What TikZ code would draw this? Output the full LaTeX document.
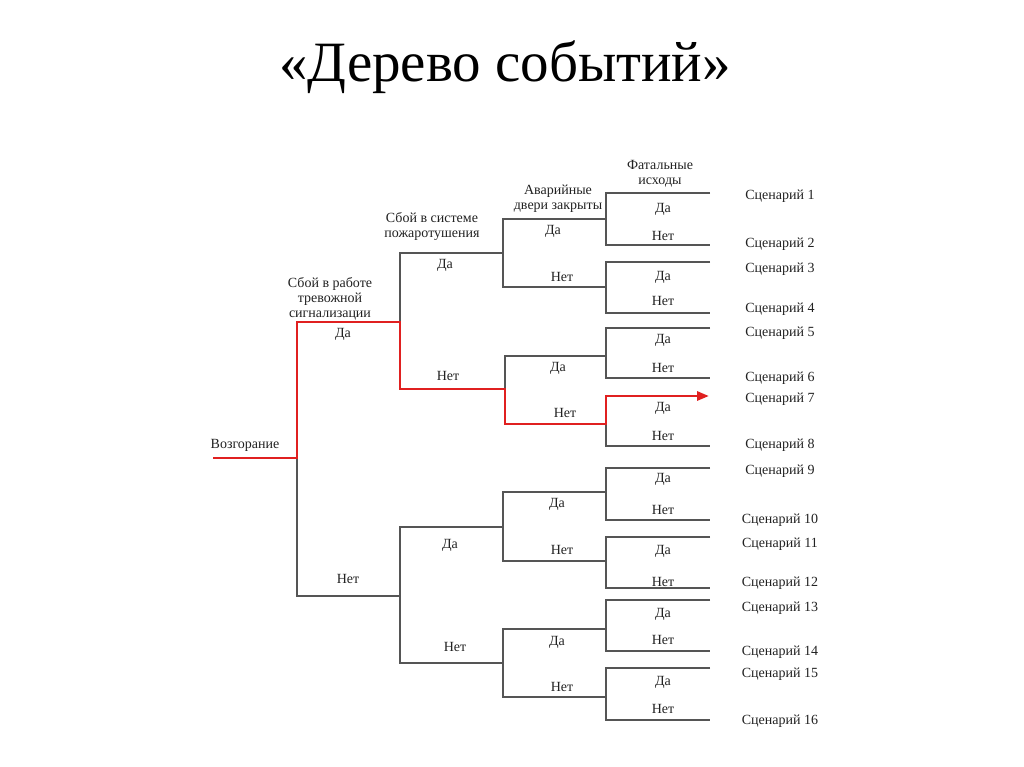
\documentclass[tikz,border=0pt]{standalone}
\usepackage{fontspec}
\setmainfont{Liberation Serif}
\usetikzlibrary{arrows.meta}
\definecolor{linegray}{HTML}{555555}
\definecolor{redc}{HTML}{E02020}
\definecolor{textc}{HTML}{222222}
\begin{document}
\begin{tikzpicture}[x=1pt,y=-1pt,
  gline/.style={draw=linegray, line width=1.15pt},
  rline/.style={draw=redc, line width=2.8pt, line join=miter},
  lbl/.style={font=\fontsize{14}{15}\selectfont, text=textc, inner sep=0pt, align=center, yshift=-2pt},
  ttl/.style={font=\fontsize{57}{60}\selectfont, text=black, inner sep=0pt}]
\useasboundingbox (0,0) rectangle (1024,767);
\fill[white] (0,0) rectangle (1024,767);
\node[ttl] (title) at (505,67) {«Дерево событий»};
% root and level 1
\coordinate (r) at (213,458);
\coordinate (q) at (297,458);
\coordinate (a1) at (297,322);
\coordinate (a2) at (297,596);
\coordinate (p1) at (400,322);
\coordinate (p2) at (400,596);
% level 2
\coordinate (b1a) at (400,253);
\coordinate (b1b) at (400,389);
\coordinate (b2a) at (400,527);
\coordinate (b2b) at (400,663);
\coordinate (n1) at (503,253);
\coordinate (n2) at (505,389);
\coordinate (n3) at (503,527);
\coordinate (n4) at (503,663);
% level 3
\coordinate (c1a) at (503,219);
\coordinate (c1b) at (503,287);
\coordinate (c2a) at (505,356);
\coordinate (c2b) at (505,424);
\coordinate (c3a) at (503,492);
\coordinate (c3b) at (503,561);
\coordinate (c4a) at (503,629);
\coordinate (c4b) at (503,697);
\coordinate (m1) at (606,219);
\coordinate (m2) at (606,287);
\coordinate (m3) at (606,356);
\coordinate (m4) at (606,424);
\coordinate (m5) at (606,492);
\coordinate (m6) at (606,561);
\coordinate (m7) at (606,629);
\coordinate (m8) at (606,697);
% level 4
\foreach \i/\ya/\yb in {1/193/245, 2/262/313, 3/328/378, 4/396/446, 5/468/520, 6/537/588, 7/600/651, 8/668/720}{
  \coordinate (d\i a) at (606,\ya);
  \coordinate (d\i b) at (606,\yb);
  \coordinate (e\i a) at (710,\ya);
  \coordinate (e\i b) at (710,\yb);
}
\coordinate (arrowend) at (709,396);
% gray lines
\foreach \i in {1,2,3,5,6,7,8}{
  \draw[gline] (e\i a) -- (d\i a) -- (d\i b) -- (e\i b);
}
\draw[gline] (d4a) -- (d4b) -- (e4b);
\draw[gline] (m1) -- (c1a) -- (c1b) -- (m2);
\draw[gline] (m3) -- (c2a) -- (c2b);
\draw[gline] (m5) -- (c3a) -- (c3b) -- (m6);
\draw[gline] (m7) -- (c4a) -- (c4b) -- (m8);
\draw[gline] (n1) -- (b1a) -- (b1b);
\draw[gline] (n3) -- (b2a) -- (b2b) -- (n4);
\draw[gline] (a1) -- (a2) -- (p2);
% red path
\draw[rline, -{Triangle[length=12pt,width=9pt]}] (r) -- (q) -- (a1) -- (p1) -- (b1b) -- (n2) -- (c2b) -- (m4) -- (d4a) -- (arrowend);
% headers
\node[lbl] (h0) at (245,443) {Возгорание};
\node[lbl] (h1) at (330,297) {Сбой в работе\\тревожной\\сигнализации};
\node[lbl] (h2) at (432,224) {Сбой в системе\\пожаротушения};
\node[lbl] (h3) at (558,197) {Аварийные\\двери закрыты};
\node[lbl] (h4) at (660,172) {Фатальные\\исходы};
% level 1 labels
\node[lbl] (l1a) at (343,332) {Да};
\node[lbl] (l1b) at (348,577) {Нет};
% level 2 labels
\node[lbl] (l2a) at (445,263) {Да};
\node[lbl] (l2b) at (448,374) {Нет};
\node[lbl] (l2c) at (450,543) {Да};
\node[lbl] (l2d) at (455,645) {Нет};
% level 3 labels
\node[lbl] (l3a) at (553,229) {Да};
\node[lbl] (l3b) at (562,275) {Нет};
\node[lbl] (l3c) at (558,366) {Да};
\node[lbl] (l3d) at (565,411) {Нет};
\node[lbl] (l3e) at (557,502) {Да};
\node[lbl] (l3f) at (562,548) {Нет};
\node[lbl] (l3g) at (557,640) {Да};
\node[lbl] (l3h) at (562,685) {Нет};
% level 4 labels
\foreach \i/\ya/\yb in {1/207/234, 2/275/299, 3/338/366, 4/406/434, 5/477/508, 6/549/580, 7/612/638, 8/680/707}{
  \node[lbl] (f\i a) at (663,\ya) {Да};
  \node[lbl] (f\i b) at (663,\yb) {Нет};
}
% scenarios
\foreach \k/\y in {1/194, 2/242, 3/267, 4/307, 5/331, 6/376, 7/397, 8/443, 9/469, 10/518, 11/542, 12/581, 13/606, 14/650, 15/672, 16/719}{
  \node[lbl] (s\k) at (780,\y) {Сценарий \k};
}
\end{tikzpicture}
\end{document}
